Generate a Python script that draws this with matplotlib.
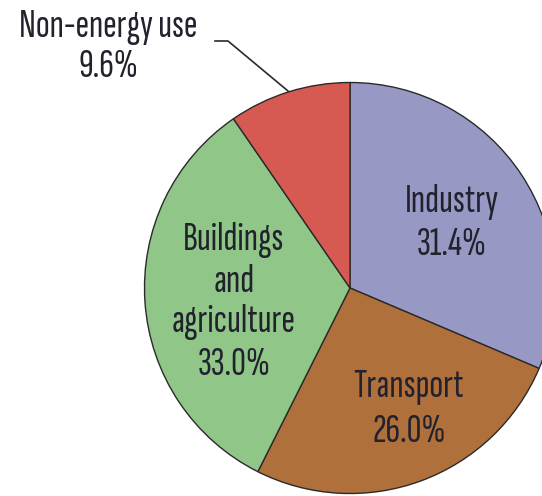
import matplotlib
matplotlib.use('Agg')
import matplotlib.pyplot as plt

# Final energy use shares
sectors = ['Industry', 'Transport', 'Buildings and agriculture', 'Non-energy use']
shares = [31.4, 26.0, 33.0, 9.6]
colors = ['#9898c4', '#b0703c', '#90c688', '#d65a52']

# label lines per sector, with (x, baseline) in image pixels
label_lines = [
    ['Industry', '31.4%'],
    ['Transport', '26.0%'],
    ['Buildings', 'and', 'agriculture', '33.0%'],
    ['Non-energy use', '9.6%'],
]
label_x = [452, 409, 234, 108]
label_baselines = [[212, 255], [397, 442], [250, 292, 332, 375], [37, 77]]

W, H = 542, 496
fig = plt.figure(figsize=(W / 100, H / 100), dpi=100)
ax = fig.add_axes([0, 0, 1, 1])

cx, cy, r = 350, H - 288, 205.5
ax.pie(shares, colors=colors, startangle=90, counterclock=False,
       center=(cx, cy), radius=r, frame=True,
       wedgeprops=dict(edgecolor='#2a2a2a', linewidth=1.0))
ax.set_xlim(0, W)
ax.set_ylim(0, H)
ax.set_aspect('equal')
ax.axis('off')

font = ['Sofia Sans Extra Condensed', 'DejaVu Sans']
for lines, x, bases in zip(label_lines, label_x, label_baselines):
    for txt, b in zip(lines, bases):
        ax.text(x, H - b, txt, ha='center', va='baseline', fontsize=29.5,
                family=font, color='#22222e')

# leader line for the small slice
ax.plot([215, 228, 288], [H - 41, H - 41, H - 91], color='#2a2a2a', lw=1.2)

plt.savefig('out.png', dpi=100)
plt.close()
